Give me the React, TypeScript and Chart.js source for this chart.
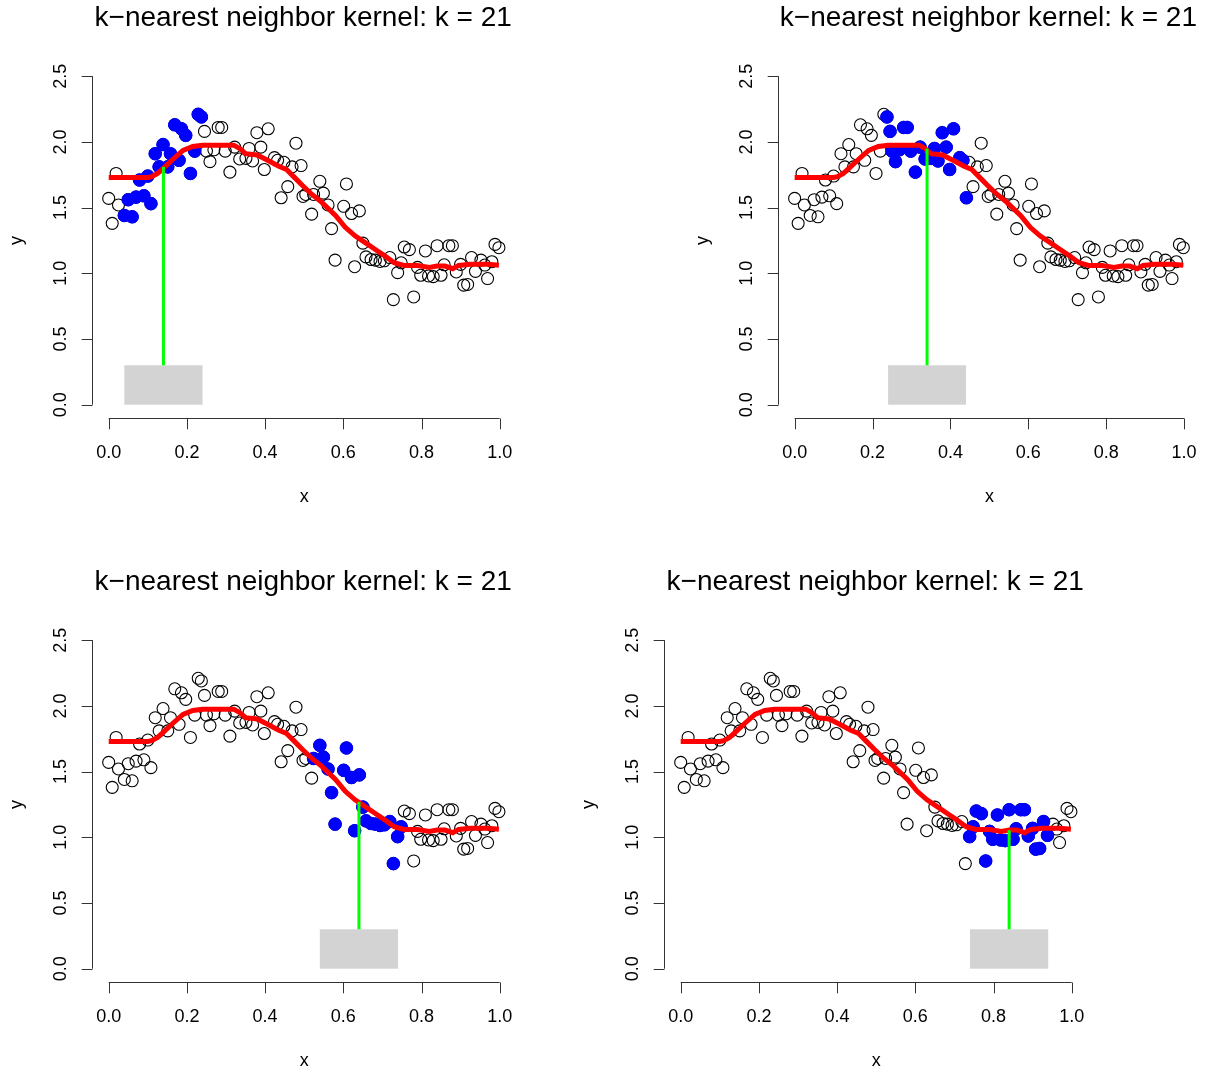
import React, { useEffect, useRef } from "react";
import { Chart, registerables } from "chart.js";
Chart.register(...registerables);

// ---- data ----
const xVals = [
  0.000, 0.009, 0.019, 0.025, 0.040, 0.050, 0.060, 0.070, 0.079, 0.090,
  0.100, 0.108, 0.119, 0.129, 0.139, 0.151, 0.158, 0.169, 0.180, 0.186,
  0.197, 0.209, 0.220, 0.229, 0.237, 0.245, 0.250, 0.259, 0.269, 0.280,
  0.289, 0.298, 0.310, 0.322, 0.335, 0.351, 0.359, 0.368, 0.379, 0.389,
  0.398, 0.408, 0.424, 0.432, 0.441, 0.448, 0.458, 0.469, 0.479, 0.492,
  0.497, 0.504, 0.519, 0.524, 0.540, 0.549, 0.561, 0.570, 0.579, 0.601,
  0.608, 0.621, 0.629, 0.641, 0.650, 0.658, 0.671, 0.682, 0.694, 0.705,
  0.719, 0.728, 0.739, 0.748, 0.756, 0.769, 0.780, 0.790, 0.798, 0.810,
  0.818, 0.830, 0.840, 0.850, 0.858, 0.870, 0.879, 0.889, 0.900, 0.908,
  0.918, 0.928, 0.938, 0.952, 0.962, 0.969, 0.980, 0.988, 0.998,
];
const yVals = [
  1.57, 1.38, 1.76, 1.52, 1.44, 1.56, 1.43, 1.58, 1.71, 1.59,
  1.74, 1.53, 1.91, 1.81, 1.98, 1.81, 1.91, 2.13, 1.86, 2.10,
  2.05, 1.76, 1.93, 2.21, 2.19, 2.08, 1.93, 1.85, 1.94, 2.11,
  2.11, 1.93, 1.77, 1.96, 1.87, 1.875, 1.95, 1.855, 2.07, 1.96,
  1.79, 2.10, 1.88, 1.86, 1.575, 1.845, 1.66, 1.81, 1.99, 1.82,
  1.585, 1.60, 1.45, 1.60, 1.70, 1.61, 1.52, 1.34, 1.10, 1.51,
  1.68, 1.455, 1.05, 1.475, 1.23, 1.125, 1.105, 1.10, 1.09, 1.095,
  1.12, 0.80, 1.005, 1.08, 1.20, 1.18, 0.82, 1.045, 0.985, 1.17,
  0.98, 0.975, 1.21, 0.985, 1.065, 1.21, 1.21, 1.01, 1.068, 0.91,
  0.915, 1.12, 1.015, 1.10, 1.063, 0.96, 1.088, 1.22, 1.195,
];

// red k-NN fit curve
const fitX = [
  0.0, 0.05, 0.10, 0.11, 0.125, 0.14, 0.165, 0.19, 0.215, 0.24,
  0.28, 0.32, 0.335, 0.35, 0.38, 0.41, 0.435, 0.455, 0.475, 0.495,
  0.52, 0.545, 0.58, 0.605, 0.63, 0.655, 0.68, 0.705, 0.73, 0.755,
  0.79, 0.82, 0.84, 0.86, 0.88, 0.895, 0.925, 0.97, 0.998,
];
const fitY = [
  1.73, 1.73, 1.73, 1.735, 1.76, 1.80, 1.87, 1.935, 1.965, 1.975,
  1.975, 1.975, 1.95, 1.91, 1.90, 1.855, 1.815, 1.79, 1.73, 1.67,
  1.60, 1.54, 1.44, 1.35, 1.285, 1.235, 1.185, 1.135, 1.08, 1.06,
  1.06, 1.045, 1.055, 1.055, 1.035, 1.06, 1.068, 1.068, 1.062,
];

const targetX = [0.14, 0.34, 0.64, 0.84];
const targetFit = [1.81, 1.95, 1.27, 1.055];
const kNeighbors = 21;
const windowHalf = 0.1;
const rectTop = 0.3;

const xTicks = [0, 0.2, 0.4, 0.6, 0.8, 1.0];
const xTickLabels = ["0.0", "0.2", "0.4", "0.6", "0.8", "1.0"];
const yTicks = [0, 0.5, 1.0, 1.5, 2.0, 2.5];
const yTickLabels = ["0.0", "0.5", "1.0", "1.5", "2.0", "2.5"];
const titleText = "k\u2212nearest neighbor kernel: k = 21";
const xLabel = "x";
const yLabel = "y";

// ---- layout ----
const PAGE_W = 1207;
const PAGE_H = 1074;
const BOX_W = 603;
const BOX_H = 537;
// page pixel of data (0,0) in each panel
const panelX0 = [108.7, 794.7, 108.7, 680.7];
const panelY0 = [404.7, 404.7, 968.7, 968.7];
const PX_X = 391;
const PX_Y = 131.4;
const FONT = "'Liberation Sans', Arial, Helvetica, sans-serif";

function Panel({ idx }: { idx: number }) {
  const ref = useRef<HTMLCanvasElement | null>(null);
  const left = panelX0[idx] - 108.7;
  const top = panelY0[idx] - 404.7;
  const W = Math.round(Math.min(BOX_W, PAGE_W - left));
  const H = Math.round(Math.min(BOX_H, PAGE_H - top));

  useEffect(() => {
    const canvas = ref.current;
    if (!canvas) return;
    const x0 = targetX[idx];
    const order = xVals
      .map((_, i) => i)
      .sort((a, b) => Math.abs(xVals[a] - x0) - Math.abs(xVals[b] - x0));
    const nn = order.slice(0, kNeighbors).sort((a, b) => a - b);

    const allPts = xVals.map((x, i) => ({ x, y: yVals[i] }));
    const bluePts = nn.map((i) => ({ x: xVals[i], y: yVals[i] }));
    const fitPts = fitX.map((x, i) => ({ x, y: fitY[i] }));
    const greenPts = [
      { x: x0, y: rectTop },
      { x: x0, y: targetFit[idx] },
    ];

    const localX0 = 108.7;
    const localY0 = 404.7;
    const plotLeft = localX0 - 0.04 * PX_X;
    const plotRight = localX0 + 1.04 * PX_X;
    const plotTop = localY0 - 2.6 * PX_Y;
    const plotBottom = localY0 + 0.1 * PX_Y;

    const decor = {
      id: "decor",
      beforeDatasetsDraw(chart: any) {
        const { ctx, scales } = chart;
        const sx = scales.x;
        const sy = scales.y;
        ctx.save();
        ctx.fillStyle = "#D3D3D3";
        const l = sx.getPixelForValue(x0 - windowHalf);
        const r = sx.getPixelForValue(x0 + windowHalf);
        const t = sy.getPixelForValue(rectTop);
        const b = sy.getPixelForValue(0);
        ctx.fillRect(l, t, r - l, b - t);
        ctx.restore();
      },
      afterDraw(chart: any) {
        const { ctx, scales, chartArea } = chart;
        const sx = scales.x;
        const sy = scales.y;
        ctx.save();
        ctx.strokeStyle = "#333";
        ctx.lineWidth = 1;
        ctx.fillStyle = "#000";
        // x axis
        const ay = Math.round(chartArea.bottom) + 0.5;
        ctx.beginPath();
        ctx.moveTo(sx.getPixelForValue(xTicks[0]), ay);
        ctx.lineTo(sx.getPixelForValue(xTicks[xTicks.length - 1]), ay);
        xTicks.forEach((t) => {
          const p = Math.round(sx.getPixelForValue(t)) + 0.5;
          ctx.moveTo(p, ay);
          ctx.lineTo(p, ay + 10.8);
        });
        ctx.stroke();
        ctx.font = `18px ${FONT}`;
        ctx.textAlign = "center";
        ctx.textBaseline = "middle";
        xTicks.forEach((t, i) => {
          ctx.fillText(xTickLabels[i], sx.getPixelForValue(t), chartArea.bottom + 35);
        });
        // y axis
        const ax = Math.round(chartArea.left) - 0.5;
        ctx.beginPath();
        ctx.moveTo(ax, sy.getPixelForValue(yTicks[0]));
        ctx.lineTo(ax, sy.getPixelForValue(yTicks[yTicks.length - 1]));
        yTicks.forEach((t) => {
          const p = Math.round(sy.getPixelForValue(t)) + 0.5;
          ctx.moveTo(ax, p);
          ctx.lineTo(ax - 10.8, p);
        });
        ctx.stroke();
        yTicks.forEach((t, i) => {
          ctx.save();
          ctx.translate(chartArea.left - 32.5, sy.getPixelForValue(t));
          ctx.rotate(-Math.PI / 2);
          ctx.fillText(yTickLabels[i], 0, 0);
          ctx.restore();
        });
        // axis titles
        const cx = (chartArea.left + chartArea.right) / 2;
        const cy = (chartArea.top + chartArea.bottom) / 2;
        ctx.fillText(xLabel, cx, chartArea.bottom + 79);
        ctx.save();
        ctx.translate(chartArea.left - 76, cy);
        ctx.rotate(-Math.PI / 2);
        ctx.fillText(yLabel, 0, 0);
        ctx.restore();
        // main title
        ctx.font = `28px ${FONT}`;
        ctx.fillText(titleText, cx - 1, 18);
        ctx.restore();
      },
    };

    const chart = new Chart(canvas, {
      type: "scatter",
      data: {
        datasets: [
          {
            label: "fit at x0",
            data: greenPts,
            showLine: true,
            borderColor: "#00FF00",
            borderWidth: 3,
            pointRadius: 0,
            order: 0,
          },
          {
            label: "kNN fit",
            data: fitPts,
            showLine: true,
            borderColor: "#FF0000",
            borderWidth: 5,
            pointRadius: 0,
            tension: 0,
            order: 1,
          },
          {
            label: "neighbors",
            data: bluePts,
            backgroundColor: "#0000FF",
            borderColor: "#0000FF",
            borderWidth: 1,
            pointRadius: 6.3,
            order: 2,
          },
          {
            label: "data",
            data: allPts,
            backgroundColor: "rgba(0,0,0,0)",
            borderColor: "#000000",
            borderWidth: 1.1,
            pointRadius: 6,
            order: 3,
          },
        ],
      },
      options: {
        responsive: false,
        animation: false,
        devicePixelRatio: 1,
        events: [],
        layout: {
          padding: {
            left: plotLeft,
            top: plotTop,
            right: W - plotRight,
            bottom: H - plotBottom,
          },
        },
        scales: {
          x: { type: "linear", min: -0.04, max: 1.04, display: false },
          y: { type: "linear", min: -0.1, max: 2.6, display: false },
        },
        plugins: {
          legend: { display: false },
          tooltip: { enabled: false },
          title: { display: false },
        },
        clip: false as any,
      } as any,
      plugins: [decor],
    });
    return () => chart.destroy();
  }, [idx, W, H]);

  return (
    <canvas
      ref={ref}
      width={W}
      height={H}
      style={{
        position: "absolute",
        left: left,
        top: top,
        width: W,
        height: H,
        display: "block",
      }}
    />
  );
}

export default function App() {
  return (
    <div
      style={{
        position: "absolute",
        left: 0,
        top: 0,
        width: PAGE_W,
        height: PAGE_H,
        overflow: "hidden",
        background: "#fff",
      }}
    >
      {[0, 1, 2, 3].map((i) => (
        <Panel key={i} idx={i} />
      ))}
    </div>
  );
}
